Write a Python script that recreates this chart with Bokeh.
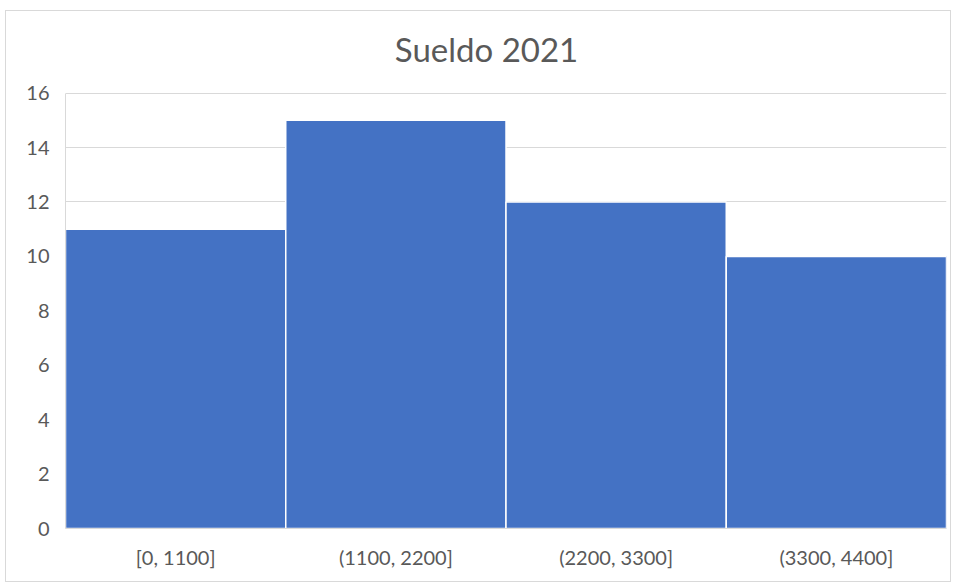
from bokeh.plotting import figure
from bokeh.models import FactorRange, Range1d, FixedTicker, Label
from bokeh.embed import file_html
from bokeh.resources import INLINE

# Data
categories = ["[0, 1100]", "(1100, 2200]", "(2200, 3300]", "(3300, 4400]"]
counts = [11, 15, 12, 10]
y_ticks = [0, 2, 4, 6, 8, 10, 12, 14, 16]
title_text = "Sueldo 2021"

TXT = "#595959"
FONT = "Lato"

# frame extends upward to hold the title; axis/grid stop at 16
p = figure(
    width=946, height=572,
    x_range=FactorRange(*categories, range_padding=0),
    y_range=Range1d(0, 18.45),
    output_backend="svg", toolbar_location=None,
    min_border_left=59, min_border_right=6, min_border_top=15, min_border_bottom=55,
)
p.styles = {"border": "1px solid #d9d9d9", "box-sizing": "border-box",
            "margin-left": "5px", "margin-top": "10px"}

p.vbar(x=categories, top=counts, width=1.0, fill_color="#4472C4",
       line_color="white", line_width=1.5)

# title placed relative to the plot frame (screen units, bottom-up)
title = Label(x=421, y=480, x_units="screen", y_units="screen", text=title_text,
              text_align="center", text_baseline="middle", text_font=FONT,
              text_font_size="33px", text_color=TXT)
p.add_layout(title)

p.outline_line_color = None
p.xgrid.grid_line_color = None
p.ygrid.grid_line_color = "#d9d9d9"
p.ygrid.grid_line_width = 1

p.yaxis.ticker = FixedTicker(ticks=y_ticks)
p.yaxis.bounds = (y_ticks[0], y_ticks[-1])
p.yaxis.axis_line_color = "#d9d9d9"
p.yaxis.major_tick_line_color = None
p.yaxis.minor_tick_line_color = None
p.yaxis.major_label_text_font = FONT
p.yaxis.major_label_text_font_size = "20px"
p.yaxis.major_label_text_color = TXT
p.yaxis.major_label_standoff = 10

p.xaxis.axis_line_color = "#d9d9d9"
p.xaxis.major_tick_line_color = None
p.xaxis.minor_tick_line_color = None
p.xaxis.major_label_text_font = FONT
p.xaxis.major_label_text_font_size = "20px"
p.xaxis.major_label_text_color = TXT
p.xaxis.major_label_standoff = 10

open("out.html", "w").write(file_html(p, INLINE))
